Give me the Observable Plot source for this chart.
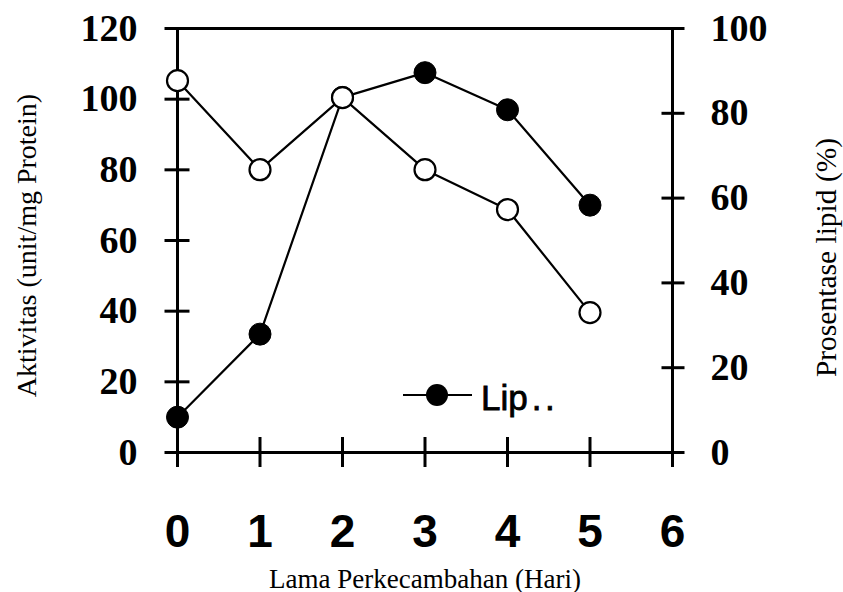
<!DOCTYPE html>
<html>
<head>
<meta charset="utf-8">
<script src="https://cdn.jsdelivr.net/npm/d3@7"></script>
<script src="https://cdn.jsdelivr.net/npm/@observablehq/plot@0.6"></script>
<style>
  body { margin: 0; background: #fff; }
  #chart svg { display: block; }
</style>
</head>
<body>
<div id="chart"></div>
<script>
// ---- data ----
const days = [0, 1, 2, 3, 4, 5];
const lipase = [10, 33.5, 100.5, 107.5, 97, 70];     // left axis: Aktivitas (unit/mg Protein)
const lipid = [87.7, 66.7, 83.7, 66.7, 57.3, 33];     // right axis: Prosentase lipid (%)
const xTicks = [0, 1, 2, 3, 4, 5, 6];
const leftTicks = [0, 20, 40, 60, 80, 100, 120];
const rightTicks = [0, 20, 40, 60, 80, 100];
const xTitle = "Lama Perkecambahan (Hari)";
const leftTitle = "Aktivitas (unit/mg Protein)";
const rightTitle = "Prosentase lipid (%)";
const legendLabel = "Lip";
const legendDots = "..";

// right axis (0–100) mapped onto left scale (0–120)
const k = 120 / 100;
const lipaseData = days.map((d, i) => ({day: d, v: lipase[i]}));
const lipidData = days.map((d, i) => ({day: d, v: lipid[i] * k}));
const rightTicksScaled = rightTicks.map(v => v * k);

const serif = "'Liberation Serif', 'Times New Roman', serif";
const sans = "'Liberation Sans', Arial, sans-serif";

const chart = Plot.plot({
  width: 843,
  height: 592,
  marginLeft: 177,
  marginRight: 171,
  marginTop: 28,
  marginBottom: 140,
  x: {domain: [0, 6]},
  y: {domain: [0, 120]},
  style: {fontFamily: serif, background: "white", color: "black", overflow: "visible"},
  marks: [
    // frame lines
    Plot.ruleX([0, 6], {stroke: "black", strokeWidth: 3}),
    Plot.ruleY([0, 120], {stroke: "black", strokeWidth: 3}),
    // crossing ticks
    Plot.axisX(xTicks, {tickSize: 30, dy: -15, tickFormat: () => "", strokeWidth: 3, label: null}),
    Plot.axisY(leftTicks, {anchor: "left", tickSize: 25, dx: 12.5, tickFormat: () => "", strokeWidth: 3, label: null}),
    Plot.axisY(rightTicksScaled, {anchor: "right", tickSize: 23, dx: -11.5, tickFormat: () => "", strokeWidth: 3, label: null}),
    // tick labels
    Plot.axisX(xTicks, {tickSize: 0, tickPadding: 62, fontSize: 46, fontWeight: "bold", fontFamily: sans, label: null}),
    Plot.axisY(leftTicks, {anchor: "left", tickSize: 0, tickPadding: 40, fontSize: 38, fontWeight: "bold", fontFamily: serif, label: null}),
    Plot.axisY(rightTicksScaled, {anchor: "right", tickSize: 0, tickPadding: 38, fontSize: 38, fontWeight: "bold", fontFamily: serif, label: null,
      tickFormat: d => String(Math.round(d / k))}),
    // axis titles
    Plot.text([leftTitle], {frameAnchor: "left", rotate: -90, dx: -150, dy: 5, fontSize: 28, fontFamily: serif,
      textAnchor: "middle", lineAnchor: "middle"}),
    Plot.text([rightTitle], {frameAnchor: "right", rotate: -90, dx: 154, dy: 17, fontSize: 29.5, fontFamily: serif,
      textAnchor: "middle", lineAnchor: "middle"}),
    Plot.text([xTitle], {frameAnchor: "bottom", dy: 135, fontSize: 27, fontFamily: serif, textAnchor: "middle", lineAnchor: "bottom"}),
    // series lines
    Plot.line(lipaseData, {x: "day", y: "v", stroke: "black", strokeWidth: 2.2}),
    Plot.line(lipidData, {x: "day", y: "v", stroke: "black", strokeWidth: 2.2}),
    // markers
    Plot.dot(lipaseData, {x: "day", y: "v", r: 11, fill: "black", stroke: "black", strokeWidth: 1}),
    Plot.dot(lipidData, {x: "day", y: "v", r: 10.5, fill: "white", stroke: "black", strokeWidth: 2.2})
  ]
});

// legend (inside plot area)
const svg = d3.select(chart);
const g = svg.append("g").attr("class", "legend");
g.append("line").attr("x1", 403).attr("x2", 472).attr("y1", 395).attr("y2", 395)
  .attr("stroke", "black").attr("stroke-width", 2.2);
g.append("circle").attr("cx", 437).attr("cy", 395).attr("r", 11).attr("fill", "black");
const t = g.append("text").attr("x", 481).attr("y", 410).attr("font-family", sans).attr("font-size", 35)
  .attr("text-anchor", "start").attr("fill", "black").attr("stroke", "black").attr("stroke-width", 0.8);
t.append("tspan").text(legendLabel);
t.append("tspan").attr("dx", 4).attr("letter-spacing", 3.5).text(legendDots);

document.getElementById("chart").appendChild(chart);
</script>
</body>
</html>
